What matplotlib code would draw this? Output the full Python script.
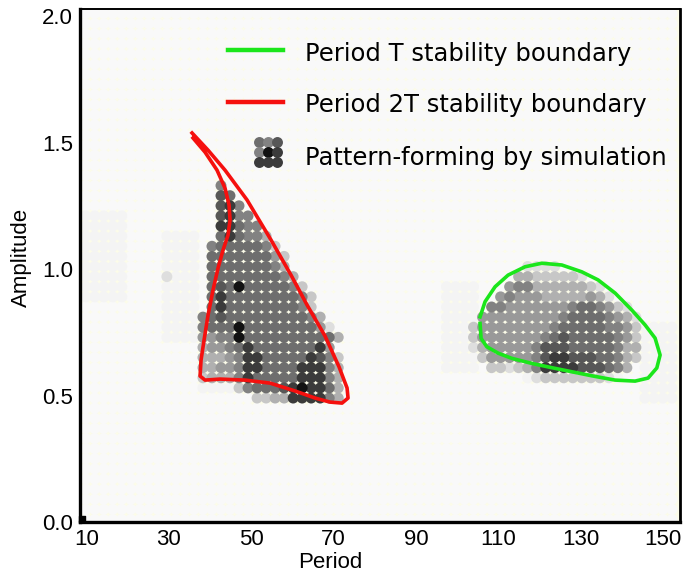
import numpy as np
import matplotlib
matplotlib.use("Agg")
import matplotlib.pyplot as plt

plt.rcParams['font.family'] = ['Liberation Sans', 'DejaVu Sans']

# ---------------- data ----------------
# simulation grid (period, amplitude)
period_grid = np.round(9.8 + 2.19 * np.arange(66), 2)
amplitude_grid = np.round(0.01 + 0.04 * np.arange(51), 2)

# darkness codes ('.' none, 'f' faint, '1'..'9' darker)
left_k0, left_j_top = 12, 33
left_rows = [
    "...5",
    "...76",
    "...785",
    "...7855",
    "...88655",
    "...686553",
    "..56666652",
    "..666666642",
    "..666666653",
    "..6666666653",
    "..67696666652",
    "..686666666652",
    "..686666666652",
    ".56766666666653",
    ".566696666666641",
    ".4455966666666663",
    ".344568666666684",
    ".3334588666668752",
    ".3344588666688853",
    ".2333586666688853",
    ".ffff256667898863",
    ".......2233888853",
]

right_k0, right_j_top = 42, 25
right_rows = [
    ".......1111",
    "......33222221",
    ".....45533333321",
    "....4544433333431",
    "...5544444445665421",
    "..444444444566665431",
    ".2444444445666665542",
    ".2444444456766666542",
    ".1344444577766666533",
    "..24444457887776653 2".replace(" ", ""),
    "...2212358888777653",
    ".......f122222221f",
]

# faint patches: (k_from, k_to, j_from, j_to, code)
faint_patches = [
    (0, 4, 22, 30, 'f'),
    (9, 12, 18, 28, 'f'),
    (40, 43, 15, 23, 'f'),
    (62, 65, 12, 19, 'f'),
]
faint_spots = [(9, 24, '1')]

# boundary curves (period, amplitude)
red_period = [35.62, 39.51, 43.63, 48.98, 54.80, 59.66, 63.55, 67.92, 71.32,
              73.26, 73.50, 72.04, 69.13, 65.49, 60.63, 54.56, 48.49, 42.42,
              38.78, 37.57, 37.81, 38.54, 39.51, 40.72, 41.94, 43.15, 44.36,
              44.85, 44.61, 43.63, 41.69, 38.78, 35.86]
red_amplitude = [1.538, 1.470, 1.391, 1.273, 1.115, 0.976, 0.858, 0.735, 0.613,
                 0.530, 0.490, 0.470, 0.474, 0.490, 0.518, 0.549, 0.561, 0.565,
                 0.561, 0.577, 0.640, 0.719, 0.818, 0.917, 1.004, 1.075, 1.134,
                 1.194, 1.253, 1.320, 1.391, 1.462, 1.518]

green_period = [105.56, 106.77, 109.20, 112.36, 116.48, 120.54, 125.40, 130.25,
                134.21, 138.34, 142.39, 145.62, 148.05, 149.27, 148.47, 146.35,
                143.20, 138.34, 132.68, 127.82, 122.97, 118.11, 113.25, 110.00,
                107.18, 105.80, 105.56]
green_amplitude = [0.811, 0.871, 0.930, 0.976, 1.009, 1.023, 1.016, 0.989, 0.957,
                   0.905, 0.838, 0.779, 0.727, 0.660, 0.609, 0.569, 0.557, 0.561,
                   0.578, 0.594, 0.610, 0.627, 0.647, 0.667, 0.693, 0.726, 0.785]

# legend icon darkness (3x3)
icon_codes = ["657", "598", "888"]

# ---------------- styles ----------------
gray_of = {'.': 0.975, 'f': 0.955, '1': 0.87, '2': 0.78, '3': 0.69, '4': 0.60,
           '5': 0.51, '6': 0.43, '7': 0.34, '8': 0.23, '9': 0.07}

nk, nj = len(period_grid), len(amplitude_grid)
codes = np.full((nj, nk), '.', dtype='<U1')
for k0, k1, j0, j1, c in faint_patches:
    codes[j0:j1 + 1, k0:k1 + 1] = c
for k, j, c in faint_spots:
    codes[j, k] = c
for rows, k0, jtop in ((left_rows, left_k0, left_j_top), (right_rows, right_k0, right_j_top)):
    for r, row in enumerate(rows):
        j = jtop - r
        for i, c in enumerate(row):
            if c != '.':
                codes[j, k0 + i] = c

P, A = np.meshgrid(period_grid, amplitude_grid)
G = np.vectorize(gray_of.get)(codes).astype(float)

fig = plt.figure(figsize=(6.85, 5.75), dpi=100)
ax = fig.add_axes([80 / 685, 53 / 575, 600 / 685, 513 / 575])
ax.set_facecolor('#fcfce9')

order = np.argsort(-G.ravel(), kind='stable')
cols = np.stack([G.ravel()] * 3, axis=1)[order]
ax.scatter(P.ravel()[order], A.ravel()[order], s=62, c=cols, marker='o',
           linewidths=0, zorder=1)

ax.plot(red_period, red_amplitude, color='#f5100e', lw=2.6, zorder=3,
        solid_joinstyle='round')
ax.plot(green_period, green_amplitude, color='#1be61b', lw=2.6, zorder=3,
        solid_joinstyle='round')

ax.scatter([8.9], [0.012], s=14, marker='s', color='black', zorder=4, clip_on=False)

ax.set_xlim(8.42, 154.1)
ax.set_ylim(0, 2.028)
ax.set_xticks([10, 30, 50, 70, 90, 110, 130, 150])
ax.set_yticks([0.0, 0.5, 1.0, 1.5, 2.0])
ax.set_yticklabels(['0.0', '0.5', '1.0', '1.5', '2.0'])
ax.tick_params(length=0, labelsize=16, pad=5)
ax.set_xlabel('Period', fontsize=16)
ax.xaxis.set_label_coords(0.417, -0.058)
ax.set_ylabel('Amplitude', fontsize=16)
ax.yaxis.set_label_coords(-0.08, 0.515)
for side, lw in (('left', 2.4), ('bottom', 2.4), ('top', 1.4), ('right', 2.0)):
    ax.spines[side].set_linewidth(lw)
    ax.spines[side].set_color('black')

# legend (drawn manually)
ax.plot([0.2467, 0.3383], [0.920, 0.920], transform=ax.transAxes, color='#1be61b', lw=3.2)
ax.plot([0.2467, 0.3383], [0.8187, 0.8187], transform=ax.transAxes, color='#f5100e', lw=3.2)
ix = [0.2983, 0.3133, 0.3283]
iy = [0.7408, 0.7213, 0.7018]
for r, row in enumerate(icon_codes):
    for c, ch in enumerate(row):
        g = gray_of[ch]
        ax.scatter([ix[c]], [iy[r]], s=62, color=(g, g, g), marker='o', linewidths=0,
                   transform=ax.transAxes, zorder=5)
legend_font = dict(fontsize=17.5, family=['DejaVu Sans'], va='center', ha='left',
                   transform=ax.transAxes)
ax.text(0.375, 0.913, 'Period T stability boundary', **legend_font)
ax.text(0.375, 0.812, 'Period 2T stability boundary', **legend_font)
ax.text(0.375, 0.7105, 'Pattern-forming by simulation', **legend_font)

fig.savefig('out.png', dpi=100)
